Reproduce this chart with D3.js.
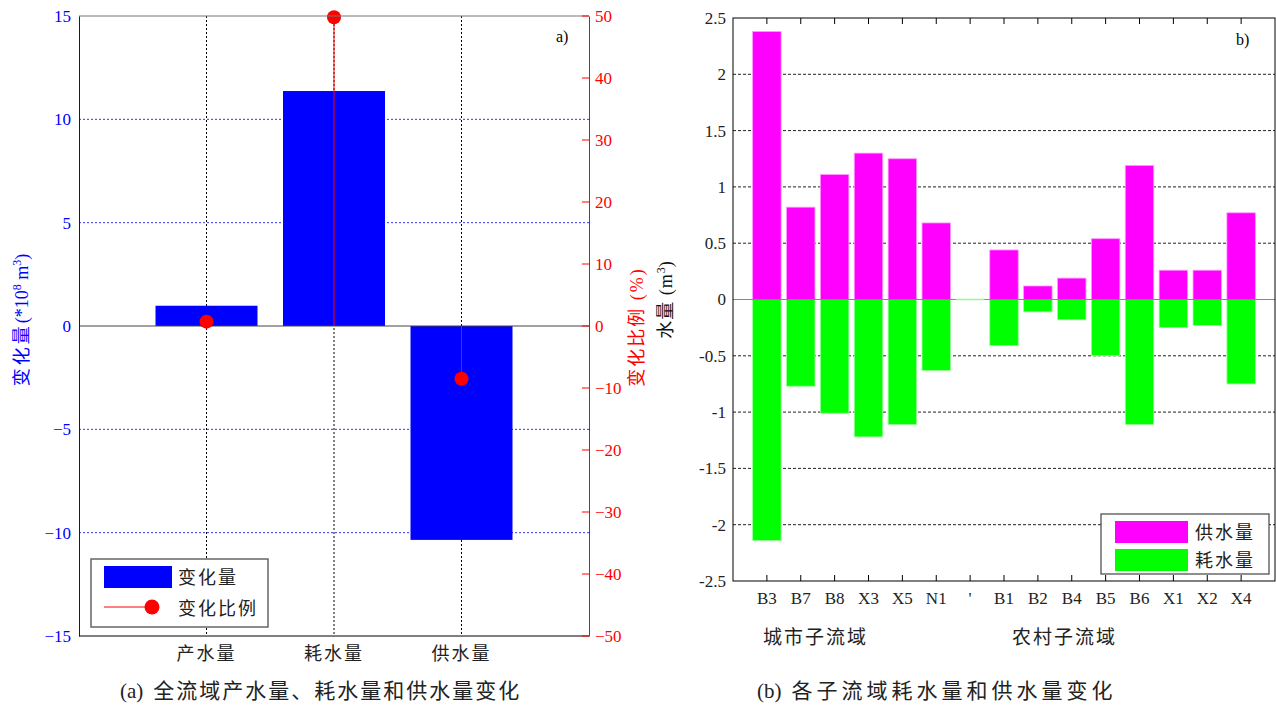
<!DOCTYPE html>
<html>
<head>
<meta charset="utf-8">
<script src="https://cdn.jsdelivr.net/npm/d3@7"></script>
<style>
body { margin: 0; background: #fff; }
text { font-family: "Liberation Serif", "Noto Sans CJK SC", serif; }
.tick text { font-family: "Liberation Serif", serif !important; }
</style>
</head>
<body>
<div id="chart"></div>
<script>
(function() {
// ---- data (a) ----
var catsA = ["产水量", "耗水量", "供水量"];
var changeA = [0.98, 11.37, -10.35];
var ratioA = [0.7, 49.8, -8.5];
var leftTicks = [-15, -10, -5, 0, 5, 10, 15];
var rightTicks = [-50, -40, -30, -20, -10, 0, 10, 20, 30, 40, 50];

// ---- data (b) ----
var catsB = ["B3", "B7", "B8", "X3", "X5", "N1", "'", "B1", "B2", "B4", "B5", "B6", "X1", "X2", "X4"];
var supplyB = [2.38, 0.82, 1.11, 1.30, 1.25, 0.68, 0, 0.44, 0.12, 0.19, 0.54, 1.19, 0.26, 0.26, 0.77];
var consumeB = [-2.14, -0.77, -1.01, -1.22, -1.11, -0.63, 0, -0.41, -0.11, -0.18, -0.50, -1.11, -0.25, -0.23, -0.75];
var ticksB = [-2.5, -2, -1.5, -1, -0.5, 0, 0.5, 1, 1.5, 2, 2.5];

var width = 1276, height = 706;
var svg = d3.select("#chart").append("svg")
  .attr("width", width).attr("height", height);

// ================= chart (a) =================
var ax0 = 79, ax1 = 589, ay0 = 16, ay1 = 636;
var xA = d3.scaleLinear().domain([0, 4]).range([ax0, ax1]);
var yA = d3.scaleLinear().domain([-15, 15]).range([ay1, ay0]);
var yR = d3.scaleLinear().domain([-50, 50]).range([ay1, ay0]);
var gA = svg.append("g");

// grid
gA.selectAll(".hgrid").data(leftTicks.filter(function(d) { return d != 0 && Math.abs(d) != 15; }))
  .enter().append("line")
  .attr("x1", ax0).attr("x2", ax1)
  .attr("y1", function(d) { return yA(d); }).attr("y2", function(d) { return yA(d); })
  .attr("stroke", "#3333ff").attr("stroke-width", 1).attr("stroke-dasharray", "2,2");
gA.selectAll(".vgrid").data(catsA)
  .enter().append("line")
  .attr("x1", function(d, i) { return xA(i + 1); }).attr("x2", function(d, i) { return xA(i + 1); })
  .attr("y1", ay0).attr("y2", ay1)
  .attr("stroke", "#000").attr("stroke-width", 1).attr("stroke-dasharray", "2,2");

// bars
gA.selectAll(".barA").data(changeA)
  .enter().append("rect")
  .attr("x", function(d, i) { return xA(i + 1 - 0.4); })
  .attr("width", xA(0.8) - xA(0))
  .attr("y", function(d) { return yA(Math.max(0, d)); })
  .attr("height", function(d) { return Math.abs(yA(d) - yA(0)); })
  .attr("fill", "#0000ff");

// zero line
gA.append("line").attr("x1", ax0).attr("x2", ax1).attr("y1", yA(0)).attr("y2", yA(0))
  .attr("stroke", "#444").attr("stroke-width", 1);

// stems and dots
gA.selectAll(".stem").data(ratioA)
  .enter().append("line")
  .attr("x1", function(d, i) { return xA(i + 1); }).attr("x2", function(d, i) { return xA(i + 1); })
  .attr("y1", yR(0)).attr("y2", function(d) { return yR(d); })
  .attr("stroke", "#ff0000").attr("stroke-width", 1);
gA.selectAll(".dot").data(ratioA)
  .enter().append("circle")
  .attr("cx", function(d, i) { return xA(i + 1); })
  .attr("cy", function(d) { return yR(d); })
  .attr("r", 7).attr("fill", "#ff0000");

// frame
gA.append("line").attr("x1", ax0).attr("x2", ax1).attr("y1", ay0).attr("y2", ay0).attr("stroke", "#777");
gA.append("line").attr("x1", ax0).attr("x2", ax1).attr("y1", ay1).attr("y2", ay1).attr("stroke", "#000");

// left axis
var leftAxis = gA.append("g").attr("transform", "translate(" + ax0 + ",0)")
  .call(d3.axisLeft(yA).tickValues(leftTicks).tickSize(0).tickPadding(8));
leftAxis.attr("font-family", "Liberation Serif");
leftAxis.select(".domain").attr("stroke", "#0000ff");
leftAxis.selectAll("text").attr("fill", "#0000ff").style("font-size", "17px");

// right axis
var rightAxis = gA.append("g").attr("transform", "translate(" + ax1 + ",0)")
  .call(d3.axisRight(yR).tickValues(rightTicks).tickSize(0).tickPadding(6));
rightAxis.attr("font-family", "Liberation Serif");
rightAxis.select(".domain").attr("stroke", "#ff0000");
rightAxis.selectAll("text").attr("fill", "#ff0000").style("font-size", "17px");
gA.selectAll(".rtick").data(rightTicks)
  .enter().append("line")
  .attr("x1", ax1 - 7).attr("x2", ax1)
  .attr("y1", function(d) { return yR(d); }).attr("y2", function(d) { return yR(d); })
  .attr("stroke", "#ff0000");

// x labels
gA.selectAll(".xlabA").data(catsA)
  .enter().append("text")
  .attr("x", function(d, i) { return xA(i + 1); })
  .attr("y", 660).attr("text-anchor", "middle")
  .style("font-size", "18px").style("letter-spacing", "2px")
  .attr("fill", "#222").text(function(d) { return d; });

// y labels
var ylA = gA.append("text").attr("transform", "translate(28,320) rotate(-90)")
  .attr("text-anchor", "middle").attr("fill", "#0000ff").style("font-size", "18px");
ylA.append("tspan").style("letter-spacing", "3px").text("变化量");
ylA.append("tspan").text("(*10");
ylA.append("tspan").attr("dy", -7).style("font-size", "12px").text("8");
ylA.append("tspan").attr("dy", 7).text(" m");
ylA.append("tspan").attr("dy", -7).style("font-size", "12px").text("3");
ylA.append("tspan").attr("dy", 7).text(")");

gA.append("text").attr("transform", "translate(643,327) rotate(-90)")
  .attr("text-anchor", "middle").attr("fill", "#ff0000").style("font-size", "18px")
  .style("letter-spacing", "2px").text("变化比例 (%)");

gA.append("text").attr("x", 556).attr("y", 42).style("font-size", "16px").attr("fill", "#000").text("a)");

// legend a
var lgA = gA.append("g");
lgA.append("rect").attr("x", 91).attr("y", 559).attr("width", 177).attr("height", 68)
  .attr("fill", "#fff").attr("stroke", "#666").attr("stroke-width", 1.5);
lgA.append("rect").attr("x", 104).attr("y", 566).attr("width", 68).attr("height", 22).attr("fill", "#0000ff");
lgA.append("line").attr("x1", 104).attr("x2", 152).attr("y1", 607).attr("y2", 607).attr("stroke", "#ff0000");
lgA.append("circle").attr("cx", 152).attr("cy", 607).attr("r", 7.5).attr("fill", "#ff0000");
lgA.append("text").attr("x", 178).attr("y", 584).style("font-size", "18px").style("letter-spacing", "2px")
  .attr("fill", "#222").text("变化量");
lgA.append("text").attr("x", 178).attr("y", 615).style("font-size", "18px").style("letter-spacing", "2px")
  .attr("fill", "#222").text("变化比例");

var capA = gA.append("text").attr("x", 120).attr("y", 698)
  .style("font-size", "21px").attr("fill", "#222");
capA.append("tspan").text("(a)");
capA.append("tspan").attr("dx", 10).style("letter-spacing", "2px").text("全流域产水量、耗水量和供水量变化");

// ================= chart (b) =================
var bx0 = 733, bx1 = 1275, by0 = 18, by1 = 581;
var xB = d3.scaleLinear().domain([0, 16]).range([bx0, bx1]);
var yB = d3.scaleLinear().domain([-2.5, 2.5]).range([by1, by0]);
var gB = svg.append("g");

gB.selectAll(".hgridB").data(ticksB.filter(function(d) { return d != 0 && Math.abs(d) != 2.5; }))
  .enter().append("line")
  .attr("x1", bx0).attr("x2", bx1)
  .attr("y1", function(d) { return yB(d); }).attr("y2", function(d) { return yB(d); })
  .attr("stroke", "#222").attr("stroke-width", 1).attr("stroke-dasharray", "3,2");

var bw = xB(0.84) - xB(0);
gB.selectAll(".sup").data(supplyB)
  .enter().append("rect")
  .attr("x", function(d, i) { return xB(i + 1) - bw / 2; })
  .attr("width", bw)
  .attr("y", function(d) { return yB(d); })
  .attr("height", function(d) { return yB(0) - yB(d); })
  .attr("fill", "#ff00ff").attr("stroke", "#ff99ff").attr("stroke-width", 0.8);
gB.selectAll(".con").data(consumeB)
  .enter().append("rect")
  .attr("x", function(d, i) { return xB(i + 1) - bw / 2; })
  .attr("width", bw)
  .attr("y", yB(0))
  .attr("height", function(d) { return yB(d) - yB(0); })
  .attr("fill", "#00ff00").attr("stroke", "#99ff99").attr("stroke-width", 0.8);

gB.append("line").attr("x1", bx0).attr("x2", bx1).attr("y1", yB(0)).attr("y2", yB(0))
  .attr("stroke", "#888").attr("stroke-width", 1.2);
// zero-height bar edge
gB.selectAll(".zero").data(catsB.filter(function(d, i) { return supplyB[i] == 0 && consumeB[i] == 0; }))
  .enter().append("line")
  .attr("x1", function(d) { return xB(catsB.indexOf(d) + 1) - bw / 2; })
  .attr("x2", function(d) { return xB(catsB.indexOf(d) + 1) + bw / 2; })
  .attr("y1", yB(0)).attr("y2", yB(0)).attr("stroke", "#88ff88").attr("stroke-width", 1.5);

// frame
gB.append("rect").attr("x", bx0).attr("y", by0).attr("width", bx1 - bx0).attr("height", by1 - by0)
  .attr("fill", "none").attr("stroke", "#000").attr("stroke-width", 1);

var yAxisB = gB.append("g").attr("transform", "translate(" + bx0 + ",0)")
  .call(d3.axisLeft(yB).tickValues(ticksB).tickSize(0).tickPadding(7).tickFormat(function(d) { return String(d); }));
yAxisB.attr("font-family", "Liberation Serif");
yAxisB.select(".domain").remove();
yAxisB.selectAll("text").attr("fill", "#222").style("font-size", "17px");

gB.selectAll(".ttick").data(catsB)
  .enter().append("line")
  .attr("x1", function(d, i) { return xB(i + 1); }).attr("x2", function(d, i) { return xB(i + 1); })
  .attr("y1", by0).attr("y2", by0 + 6).attr("stroke", "#000");
gB.selectAll(".btick").data(catsB)
  .enter().append("line")
  .attr("x1", function(d, i) { return xB(i + 1); }).attr("x2", function(d, i) { return xB(i + 1); })
  .attr("y1", by1).attr("y2", by1 - 6).attr("stroke", "#000");
gB.selectAll(".xlabB").data(catsB)
  .enter().append("text")
  .attr("x", function(d, i) { return xB(i + 1); })
  .attr("y", 604).attr("text-anchor", "middle")
  .style("font-size", "17px").attr("fill", "#222").text(function(d) { return d; });

var ylB = gB.append("text").attr("transform", "translate(672,300) rotate(-90)")
  .attr("text-anchor", "middle").attr("fill", "#111").style("font-size", "18px");
ylB.append("tspan").style("letter-spacing", "1px").text("水量 (m");
ylB.append("tspan").attr("dy", -7).style("font-size", "12px").text("3");
ylB.append("tspan").attr("dy", 7).text(")");

gB.append("text").attr("x", 1236).attr("y", 45).style("font-size", "16px").attr("fill", "#000").text("b)");

// legend b
var lgB = gB.append("g");
lgB.append("rect").attr("x", 1101).attr("y", 514).attr("width", 168).attr("height", 60)
  .attr("fill", "#fff").attr("stroke", "#444").attr("stroke-width", 1.2);
lgB.append("rect").attr("x", 1115).attr("y", 521).attr("width", 73).attr("height", 22).attr("fill", "#ff00ff");
lgB.append("rect").attr("x", 1115).attr("y", 549).attr("width", 73).attr("height", 22).attr("fill", "#00ff00");
lgB.append("text").attr("x", 1195).attr("y", 539).style("font-size", "18px").style("letter-spacing", "2px")
  .attr("fill", "#222").text("供水量");
lgB.append("text").attr("x", 1195).attr("y", 567).style("font-size", "18px").style("letter-spacing", "2px")
  .attr("fill", "#222").text("耗水量");

gB.append("text").attr("x", 763).attr("y", 644)
  .style("font-size", "19px").style("letter-spacing", "2px").attr("fill", "#222").text("城市子流域");
gB.append("text").attr("x", 1012).attr("y", 644)
  .style("font-size", "19px").style("letter-spacing", "2px").attr("fill", "#222").text("农村子流域");

var capB = gB.append("text").attr("x", 757).attr("y", 698)
  .style("font-size", "21px").attr("fill", "#222");
capB.append("tspan").text("(b)");
capB.append("tspan").attr("dx", 10).style("letter-spacing", "4px").text("各子流域耗水量和供水量变化");
})();
</script>
</body>
</html>
